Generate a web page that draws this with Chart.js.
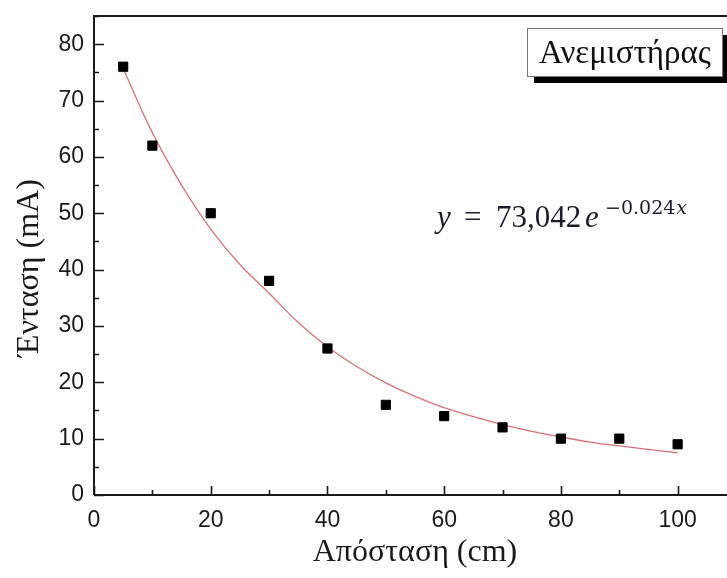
<!DOCTYPE html>
<html>
<head>
<meta charset="utf-8">
<script src="https://cdn.jsdelivr.net/npm/chart.js@4.4.1/dist/chart.umd.min.js"></script>
<style>
html,body{margin:0;padding:0;background:#fff;overflow:hidden;width:727px;height:578px;}
canvas{display:block;}
</style>
</head>
<body>
<canvas id="c" width="760" height="578" style="width:760px;height:578px"></canvas>
<script>
// ---- data ----
const distance = [5, 10, 20, 30, 40, 50, 60, 70, 80, 90, 100];          // cm
const current  = [76, 62, 50, 38, 26, 16, 14, 12, 10, 10, 9];            // mA
// red fitted curve, every 5 cm
const fitDistance = [5, 10, 15, 20, 25, 30, 35, 40, 45, 50, 55, 60, 65, 70, 75, 80, 85, 90, 95, 100];
const fitCurrent  = [75.7, 64.3, 55.0, 47.2, 40.9, 35.8, 30.6, 26.3, 22.8, 19.9, 17.5, 15.5, 13.9, 12.5, 11.3, 10.3, 9.4, 8.7, 8.1, 7.5];
const xTickValues = [0, 20, 40, 60, 80, 100];
const yTickValues = [0, 10, 20, 30, 40, 50, 60, 70, 80];
const xTitle = 'Απόσταση (cm)';
const yTitle = 'Ένταση (mA)';
const legendLabel = 'Ανεμιστήρας';
const eqMain = ['y', '=', '73,042', 'e'];
const eqSup = '−0.024';
const eqSupVar = 'x';

const pts = distance.map((x, i) => ({x, y: current[i]}));
const fit = fitDistance.map((x, i) => ({x, y: fitCurrent[i]}));

const frameAndTicks = {
  id: 'frameAndTicks',
  afterDatasetsDraw(chart) {
    const {ctx, chartArea: a, scales: {x, y}} = chart;
    ctx.save();
    ctx.strokeStyle = '#1a1a1a';
    ctx.lineWidth = 2;
    ctx.beginPath();
    ctx.moveTo(a.left, a.bottom); ctx.lineTo(a.left, a.top); ctx.lineTo(a.right, a.top); ctx.lineTo(a.right, a.bottom); ctx.lineTo(a.left, a.bottom);
    ctx.stroke();
    ctx.lineWidth = 1.6;
    ctx.beginPath();
    for (let v = 0; v <= 110; v += 10) {
      const px = Math.round(x.getPixelForValue(v)) + 0.5;
      const len = v % 20 === 0 ? 9 : 5;
      ctx.moveTo(px, a.bottom); ctx.lineTo(px, a.bottom - len);
    }
    for (let v = 0; v <= 85; v += 5) {
      const py = Math.round(y.getPixelForValue(v)) + 0.5;
      const len = v % 10 === 0 ? 10 : 5;
      ctx.moveTo(a.left, py); ctx.lineTo(a.left + len, py);
    }
    ctx.stroke();
    ctx.restore();
  },
  afterDraw(chart) {
    const ctx = chart.ctx;
    ctx.save();
    // y-axis title
    ctx.fillStyle = '#1a1a1a';
    ctx.font = '32px "Liberation Serif"';
    ctx.textAlign = 'center';
    ctx.textBaseline = 'middle';
    ctx.translate(30, 268);
    ctx.rotate(-Math.PI / 2);
    ctx.fillText(yTitle, 0, 0);
    ctx.setTransform(1, 0, 0, 1, 0, 0);
    // legend box with shadow
    const bx = 527, by = 28, bw = 195, bh = 48;
    ctx.fillStyle = '#000';
    ctx.fillRect(bx + 7, by + 7, bw, bh);
    ctx.fillStyle = '#fff';
    ctx.fillRect(bx, by, bw, bh);
    ctx.strokeStyle = '#777';
    ctx.lineWidth = 1;
    ctx.strokeRect(bx + 0.5, by + 0.5, bw, bh);
    ctx.fillStyle = '#111';
    ctx.font = '33px "Liberation Serif"';
    ctx.textBaseline = 'alphabetic';
    ctx.textAlign = 'left';
    ctx.fillText(legendLabel, 539, 63);
    // equation
    ctx.fillStyle = '#1c1c2a';
    ctx.font = 'italic 31px "Liberation Serif"';
    ctx.fillText(eqMain[0], 437, 227);
    ctx.font = '31px "Liberation Serif"';
    ctx.fillText(eqMain[1], 464, 227);
    ctx.fillText(eqMain[2], 496, 227);
    ctx.font = 'italic 31px "Liberation Serif"';
    ctx.fillText(eqMain[3], 585, 227);
    ctx.font = '19px "DejaVu Serif"';
    ctx.fillText(eqSup, 605, 214);
    const w = ctx.measureText(eqSup).width;
    ctx.font = 'italic 19px "DejaVu Serif"';
    ctx.fillText(eqSupVar, 605 + w + 1, 214);
    ctx.restore();
  }
};

new Chart(document.getElementById('c'), {
  type: 'scatter',
  data: {
    datasets: [
      {
        label: 'fit',
        data: fit,
        showLine: true,
        borderColor: '#d8707c',
        borderWidth: 1.3,
        pointRadius: 0,
        tension: 0.4,
        order: 2
      },
      {
        label: legendLabel,
        data: pts,
        pointStyle: 'rect',
        pointRadius: 6.5,
        pointHoverRadius: 6.5,
        backgroundColor: '#000',
        borderColor: '#000',
        borderWidth: 1,
        order: 1
      }
    ]
  },
  options: {
    responsive: false,
    animation: false,
    events: [],
    layout: {padding: {left: 0, top: 16, right: 24, bottom: 0}},
    plugins: {legend: {display: false}, tooltip: {enabled: false}},
    scales: {
      x: {
        type: 'linear', min: 0, max: 110,
        grid: {display: false, drawTicks: false},
        border: {display: false},
        afterFit: s => { s.height = 83; s.paddingLeft = 0; s.paddingRight = 0; },
        afterBuildTicks: s => { s.ticks = xTickValues.map(v => ({value: v})); },
        ticks: {padding: 12, color: '#1a1a1a', font: {family: '"Liberation Sans", Arial, sans-serif', size: 23}, maxRotation: 0, autoSkip: false},
        title: {display: true, text: xTitle, color: '#1a1a1a', font: {family: '"Liberation Serif", serif', size: 32}, padding: {top: 4, bottom: 6}}
      },
      y: {
        type: 'linear', min: 0, max: 85,
        grid: {display: false, drawTicks: false},
        border: {display: false},
        afterFit: s => { s.width = 94; s.paddingTop = 0; s.paddingBottom = 0; },
        afterBuildTicks: s => { s.ticks = yTickValues.map(v => ({value: v})); },
        ticks: {padding: 10, color: '#1a1a1a', font: {family: '"Liberation Sans", Arial, sans-serif', size: 23}, autoSkip: false}
      }
    }
  },
  plugins: [frameAndTicks]
});
</script>
</body>
</html>
